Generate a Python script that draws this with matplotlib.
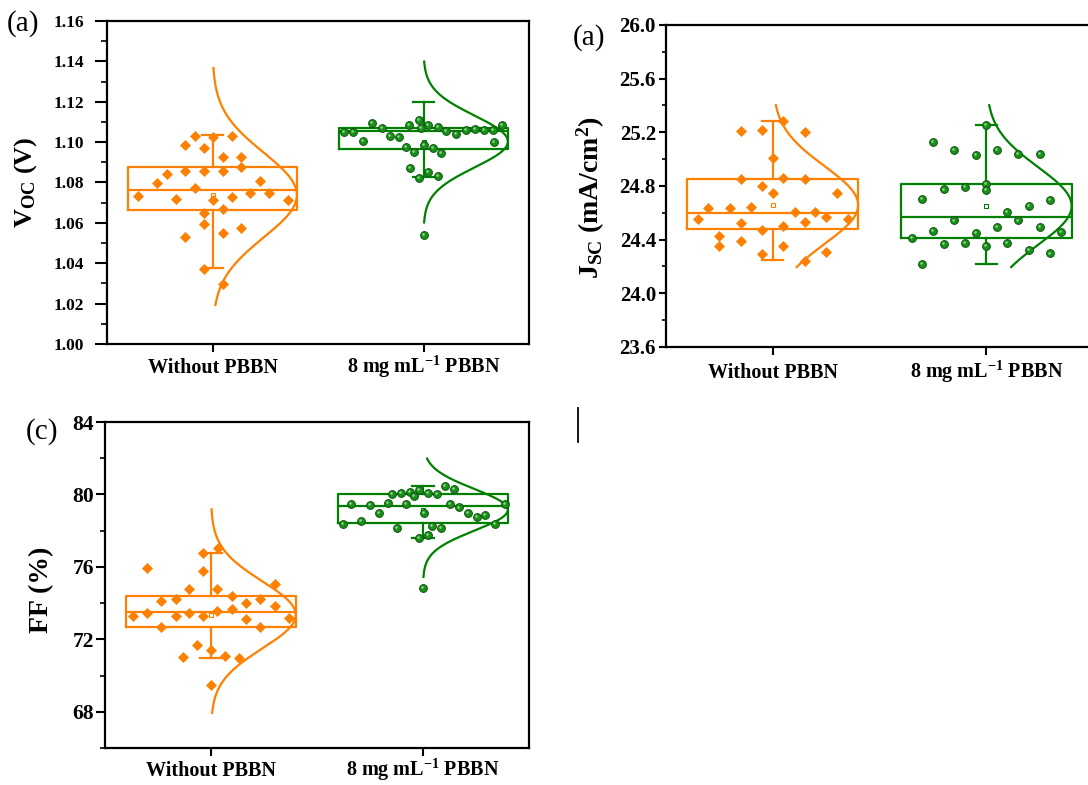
import numpy as np
import matplotlib
matplotlib.use('Agg')
import matplotlib.pyplot as plt
from matplotlib.ticker import MultipleLocator, FormatStrFormatter
from matplotlib.lines import Line2D
from matplotlib.transforms import offset_copy

plt.rcParams['font.family'] = ['Liberation Serif', 'DejaVu Serif']
plt.rcParams['font.weight'] = 'bold'
plt.rcParams['mathtext.fontset'] = 'custom'
plt.rcParams['mathtext.rm'] = 'Liberation Serif:bold'
plt.rcParams['mathtext.bf'] = 'Liberation Serif:bold'
plt.rcParams['mathtext.it'] = 'Liberation Serif:italic:bold'

ORANGE = '#FF8000'
GREEN = '#008000'

groups = ['Without PBBN', r'8 mg mL$^{\mathbf{-1}}$ PBBN']

# ---------------- Voc (V) ----------------
voc_ref = [1.1032, 1.1032, 1.1025, 1.0986, 1.0973, 1.0928, 1.0928, 1.0879, 1.0857, 1.0857,
           1.0857, 1.0841, 1.0797, 1.0805, 1.0775, 1.0735, 1.0730, 1.0747, 1.0750, 1.0717,
           1.0714, 1.0714, 1.0651, 1.0668, 1.0595, 1.0577, 1.0549, 1.0529, 1.0371, 1.0298]
voc_ref_jit = [-0.085, 0.093, 0.003, -0.128, -0.041, 0.049, 0.136, 0.136, -0.128, -0.041,
               0.049, -0.218, -0.262, 0.227, -0.085, -0.352, 0.093, 0.180, 0.270, -0.172,
               0.003, 0.359, -0.041, 0.049, -0.041, 0.136, 0.049, -0.128, -0.041, 0.049]
voc_pbbn = [1.1110, 1.1093, 1.1085, 1.1072, 1.1085, 1.1073, 1.1085, 1.1068, 1.1049, 1.1049,
            1.1055, 1.1040, 1.1060, 1.1063, 1.1060, 1.1060, 1.1030, 1.1027, 1.1006, 1.1000,
            1.0986, 1.0974, 1.0969, 1.0953, 1.0945, 1.0873, 1.0853, 1.0821, 1.0832, 1.0541]
voc_pbbn_jit = [-0.021, -0.245, -0.068, -0.197, 0.022, 0.070, 0.374, -0.013, -0.376, -0.332,
                0.106, 0.153, 0.201, 0.243, 0.288, 0.330, -0.158, -0.115, -0.289, 0.335,
                0.000, -0.084, 0.043, -0.044, 0.082, -0.065, 0.022, -0.021, 0.070, 0.000]
voc_q1 = [1.0664, 1.0964]
voc_med = [1.0763, 1.1055]
voc_q3 = [1.0878, 1.1068]
voc_whislo = [1.0375, 1.0826]
voc_whishi = [1.1035, 1.1197]
voc_mean = [1.0738, 1.1003]
voc_sd = [0.0210, 0.0128]
voc_curve_lo = [1.0193, 1.0602]
voc_curve_hi = [1.1367, 1.1399]

# ---------------- Jsc (mA/cm2) ----------------
jsc_ref = [25.207, 25.217, 25.200, 25.286, 25.010, 24.853, 24.863, 24.853, 24.801, 24.750,
           24.750, 24.634, 24.634, 24.646, 24.604, 24.609, 24.572, 24.553, 24.553, 24.523,
           24.528, 24.503, 24.474, 24.425, 24.351, 24.388, 24.351, 24.294, 24.306, 24.240]
jsc_ref_jit = [-0.150, -0.052, 0.149, 0.050, 0.000, -0.150, 0.050, 0.149, -0.052, 0.000,
               0.300, -0.302, -0.200, -0.102, 0.102, 0.199, 0.249, -0.349, 0.351, -0.150,
               0.149, 0.050, -0.052, -0.250, -0.250, -0.150, 0.050, -0.052, 0.249, 0.149]
jsc_pbbn = [25.254, 25.126, 25.070, 25.070, 25.033, 25.038, 25.038, 24.818, 24.774, 24.791,
            24.769, 24.700, 24.693, 24.654, 24.609, 24.543, 24.543, 24.462, 24.494, 24.491,
            24.457, 24.412, 24.447, 24.370, 24.375, 24.375, 24.351, 24.326, 24.297, 24.220]
jsc_pbbn_jit = [0.000, -0.250, -0.149, 0.050, -0.050, 0.149, 0.250, 0.000, -0.200, -0.100,
                0.000, -0.300, 0.300, 0.200, 0.099, -0.149, 0.149, -0.250, 0.050, 0.250,
                0.349, -0.349, -0.050, -0.200, -0.100, 0.099, 0.000, 0.200, 0.300, -0.300]
jsc_q1 = [24.476, 24.412]
jsc_med = [24.597, 24.572]
jsc_q3 = [24.853, 24.814]
jsc_whislo = [24.245, 24.220]
jsc_whishi = [25.286, 25.254]
jsc_mean = [24.658, 24.651]
jsc_sd = [0.29, 0.29]
jsc_curve_lo = [24.196, 24.196]
jsc_curve_hi = [25.402, 25.402]

# ---------------- FF (%) ----------------
ff_ref = [75.94, 76.74, 77.07, 75.76, 74.77, 74.77, 75.03, 74.40, 74.12, 74.25,
          74.22, 73.98, 73.85, 73.70, 73.43, 73.28, 73.30, 73.48, 73.30, 73.55,
          73.19, 73.10, 72.66, 72.66, 71.66, 71.40, 71.03, 71.09, 70.95, 69.47]
ff_ref_jit = [-0.300, -0.036, 0.035, -0.036, -0.103, 0.030, 0.300, 0.098, -0.237, -0.167,
              0.232, 0.164, 0.300, 0.098, -0.300, -0.368, -0.167, -0.103, -0.036, 0.030,
              0.370, 0.164, -0.237, 0.232, -0.068, 0.000, -0.134, 0.066, 0.134, 0.000]
ff_pbbn = [80.47, 80.29, 80.01, 80.10, 80.14, 79.92, 80.23, 80.10, 80.05, 79.46,
           79.44, 79.53, 79.50, 79.50, 79.28, 79.46, 79.00, 78.76, 78.85, 78.95,
           79.00, 78.54, 78.36, 78.36, 78.17, 78.25, 78.15, 77.57, 77.75, 74.81]
ff_pbbn_jit = [0.106, 0.148, -0.147, -0.104, -0.062, -0.041, -0.017, 0.022, 0.065, -0.338,
               -0.251, -0.167, -0.081, 0.128, 0.172, 0.385, 0.212, 0.254, 0.294, -0.207,
               0.003, -0.294, -0.378, 0.341, -0.125, 0.043, 0.085, -0.021, 0.022, 0.000]
ff_q1 = [72.69, 78.40]
ff_med = [73.52, 79.37]
ff_q3 = [74.40, 80.01]
ff_whislo = [70.98, 77.57]
ff_whishi = [76.74, 80.47]
ff_mean = [73.35, 79.15]
ff_sd = [1.85, 1.15]
ff_curve_lo = [67.94, 75.45]
ff_curve_hi = [79.18, 81.98]

W, H = 1088, 785
fig = plt.figure(figsize=(W / 100, H / 100), dpi=100)
PT = 0.72  # points per pixel at 100 dpi


def px_rect(left, top, right, bottom):
    return [left / W, 1 - bottom / H, (right - left) / W, (bottom - top) / H]


def draw_group(ax, pos, color, vals, jit, q1, med, q3, wlo, whi, mean, sd, clo, chi, marker):
    stats = [dict(med=med, q1=q1, q3=q3, whislo=wlo, whishi=whi, mean=mean, fliers=[])]
    lp = dict(color=color, linewidth=1.6)
    ax.bxp(stats, positions=[pos], widths=0.8, capwidths=0.1, showmeans=True,
           boxprops=lp, whiskerprops=lp, capprops=lp, medianprops=lp,
           meanprops=dict(marker='s', markerfacecolor='white', markeredgecolor=color,
                          markersize=3.5, markeredgewidth=0.8),
           manage_ticks=False, zorder=2)
    ys = np.linspace(clo, chi, 300)
    xs = pos + 0.4 * np.exp(-0.5 * ((ys - mean) / sd) ** 2)
    ax.plot(xs, ys, color=color, linewidth=1.6, zorder=3)
    x = pos + np.asarray(jit)
    if marker == 'D':
        ax.plot(x, vals, linestyle='none', marker='D', markersize=4.8,
                markerfacecolor=color, markeredgecolor=color, markeredgewidth=0.5, zorder=4)
    else:
        ax.plot(x, vals, linestyle='none', marker='o', markersize=5.6,
                markerfacecolor='#1a8f1a', markeredgecolor='#0a560a',
                markeredgewidth=0.7, zorder=4)
        # small specular highlight to give the dots a shaded look
        hl = offset_copy(ax.transData, fig=ax.figure, x=-0.7, y=0.7, units='points')
        ax.plot(x, vals, linestyle='none', marker='o', markersize=1.8,
                markerfacecolor='#8fdc8f', markeredgewidth=0, transform=hl, zorder=5)


def style_axes(ax, ylim, major, minor, fmt, ylab_size, maj_px, min_px, ypad_px, xbase_px):
    ax.set_xlim(0.5, 2.5)
    ax.set_ylim(*ylim)
    ax.set_xticks([1, 2])
    ax.set_xticklabels(groups, fontsize=14.5, fontweight='bold')
    ax.yaxis.set_major_locator(MultipleLocator(major))
    ax.yaxis.set_minor_locator(MultipleLocator(minor))
    ax.yaxis.set_major_formatter(FormatStrFormatter(fmt))
    for s in ax.spines.values():
        s.set_linewidth(1.6)
    ax.tick_params(axis='y', which='major', direction='out', length=maj_px * PT, width=1.5,
                   labelsize=ylab_size, pad=ypad_px * PT)
    ax.tick_params(axis='y', which='minor', direction='out', length=min_px * PT, width=1.2)
    xlen = 8
    ax.tick_params(axis='x', which='major', direction='out', length=xlen * PT, width=1.5,
                   pad=(xbase_px - xlen) * PT)
    ax.tick_params(axis='x', which='minor', bottom=False)
    for lab in ax.get_xticklabels():
        lab.set_verticalalignment('baseline')
    for lab in ax.get_yticklabels():
        lab.set_fontweight('bold')


# Panel (a): Voc
ax1 = fig.add_axes(px_rect(107, 21, 529, 344))
draw_group(ax1, 1, ORANGE, voc_ref, voc_ref_jit, voc_q1[0], voc_med[0], voc_q3[0],
           voc_whislo[0], voc_whishi[0], voc_mean[0], voc_sd[0], voc_curve_lo[0],
           voc_curve_hi[0], 'D')
draw_group(ax1, 2, GREEN, voc_pbbn, voc_pbbn_jit, voc_q1[1], voc_med[1], voc_q3[1],
           voc_whislo[1], voc_whishi[1], voc_mean[1], voc_sd[1], voc_curve_lo[1],
           voc_curve_hi[1], 'o')
style_axes(ax1, (1.00, 1.16), 0.02, 0.01, '%.2f', 12.5, 12, 6, 11, 29)

# Panel (b): Jsc
ax2 = fig.add_axes(px_rect(666, 25, 1093, 347))
draw_group(ax2, 1, ORANGE, jsc_ref, jsc_ref_jit, jsc_q1[0], jsc_med[0], jsc_q3[0],
           jsc_whislo[0], jsc_whishi[0], jsc_mean[0], jsc_sd[0], jsc_curve_lo[0],
           jsc_curve_hi[0], 'D')
draw_group(ax2, 2, GREEN, jsc_pbbn, jsc_pbbn_jit, jsc_q1[1], jsc_med[1], jsc_q3[1],
           jsc_whislo[1], jsc_whishi[1], jsc_mean[1], jsc_sd[1], jsc_curve_lo[1],
           jsc_curve_hi[1], 'o')
style_axes(ax2, (23.6, 26.0), 0.4, 0.2, '%.1f', 15, 7, 4, 3, 31)

# Panel (c): FF
ax3 = fig.add_axes(px_rect(105, 422, 529, 748))
draw_group(ax3, 1, ORANGE, ff_ref, ff_ref_jit, ff_q1[0], ff_med[0], ff_q3[0],
           ff_whislo[0], ff_whishi[0], ff_mean[0], ff_sd[0], ff_curve_lo[0],
           ff_curve_hi[0], 'D')
draw_group(ax3, 2, GREEN, ff_pbbn, ff_pbbn_jit, ff_q1[1], ff_med[1], ff_q3[1],
           ff_whislo[1], ff_whishi[1], ff_mean[1], ff_sd[1], ff_curve_lo[1],
           ff_curve_hi[1], 'o')
style_axes(ax3, (66, 84), 4, 2, '%d', 15.5, 9, 5, 2, 28)


def ftext(x, y, s, **kw):
    fig.text(x / W, 1 - y / H, s, ha='center', va='center', **kw)


# axis titles
ftext(26, 182, r'$\mathbf{V_{OC}}$ (V)', rotation=90, fontsize=19, fontweight='bold')
ftext(591, 198, r'$\mathbf{J_{SC}}$ (mA/cm$^{\mathbf{2}}$)', rotation=90, fontsize=20,
      fontweight='bold')
ftext(42, 590, 'FF (%)', rotation=90, fontsize=20, fontweight='bold')

# panel letters
ftext(23, 24, '(a)', fontsize=21, fontweight='normal')
ftext(589, 38, '(a)', fontsize=21, fontweight='normal')
ftext(42, 432, '(c)', fontsize=21, fontweight='normal')

# short vertical rule between the panels
fig.add_artist(Line2D([578 / W, 578 / W], [1 - 408 / H, 1 - 442 / H],
                      color='black', linewidth=1.3))

fig.savefig('out.png', dpi=100)
